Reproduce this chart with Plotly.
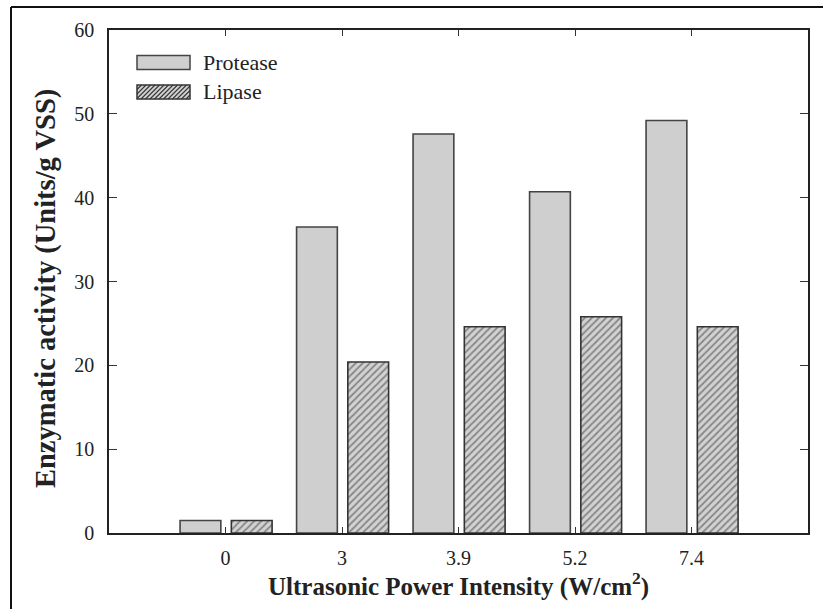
import plotly.graph_objects as go

categories = ["0", "3", "3.9", "5.2", "7.4"]
protease = [1.5, 36.5, 47.6, 40.7, 49.2]
lipase = [1.5, 20.4, 24.6, 25.8, 24.6]
y_ticks = [0, 10, 20, 30, 40, 50, 60]

W, H = 823, 609
L, R, T, B = 109, 15, 30, 76
PW, PH = W - L - R, H - T - B

def px(x):
    return (x - L) / PW

def py(y):
    return (H - B - y) / PH

fig = go.Figure()
fig.add_trace(go.Bar(
    x=categories, y=protease, name="Protease",
    width=0.35, offset=-0.39,
    marker=dict(color="#cfcfcf", line=dict(color="#444444", width=1.6)),
    showlegend=False,
))
fig.add_trace(go.Bar(
    x=categories, y=lipase, name="Lipase",
    width=0.35, offset=0.05,
    marker=dict(color="#c8c8c8", line=dict(color="#333333", width=1.6),
                pattern=dict(shape="/", fgcolor="#3a3a3a", bgcolor="#d2d2d2",
                             size=5, solidity=0.35)),
    showlegend=False,
))

font_family = "Liberation Serif, Times New Roman, serif"

fig.update_layout(
    width=W, height=H,
    margin=dict(l=L, r=R, t=T, b=B),
    paper_bgcolor="white", plot_bgcolor="white",
    barmode="overlay",
    font=dict(family=font_family, size=20, color="#222222"),
    showlegend=False,
)
fig.update_xaxes(
    type="category", range=[-1, 5],
    showline=True, linecolor="#222222", linewidth=1.5, mirror="ticks",
    ticks="inside", ticklen=6, tickwidth=1.2, tickcolor="#333333",
    showgrid=False, zeroline=False,
    tickfont=dict(size=20), ticklabelstandoff=6,
)
fig.update_yaxes(
    range=[0, 60], tickvals=y_ticks,
    showline=True, linecolor="#222222", linewidth=1.5, mirror="ticks",
    ticks="inside", ticklen=8, tickwidth=1.2, tickcolor="#333333",
    showgrid=False, zeroline=False,
    tickfont=dict(size=20), ticklabelstandoff=9,
)

# axis titles
fig.add_annotation(text="<b>Ultrasonic Power Intensity (W/cm<sup>2</sup>)</b>",
                   xref="paper", yref="paper", x=px(458), y=py(584),
                   showarrow=False, font=dict(size=25, color="#222222"),
                   xanchor="center", yanchor="middle")
fig.add_annotation(text="<b>Enzymatic activity (Units/g VSS)</b>",
                   xref="paper", yref="paper", x=px(46), y=py(289),
                   showarrow=False, textangle=-90, font=dict(size=28.5, color="#222222"),
                   xanchor="center", yanchor="middle")

# legend (manual)
x0, x1 = 137, 190
fig.add_shape(type="rect", xref="paper", yref="paper",
              x0=px(x0), x1=px(x1), y0=py(69.5), y1=py(55.5),
              fillcolor="#cfcfcf", line=dict(color="#444444", width=1.5), layer="above")
ly0, ly1 = 85, 99
fig.add_shape(type="rect", xref="paper", yref="paper",
              x0=px(x0), x1=px(x1), y0=py(ly1), y1=py(ly0),
              fillcolor="#d2d2d2", line=dict(width=0), layer="above")
# hatching "/" lines inside lipase legend box
segs = []
step = 4.5
h = ly1 - ly0
s = x0 - h
while s < x1:
    ax, ay = s, ly1
    bx, by = s + h, ly0
    if ax < x0:
        ay = ly1 - (x0 - ax)
        ax = x0
    if bx > x1:
        by = ly0 + (bx - x1)
        bx = x1
    if bx > ax:
        segs.append(f"M{px(ax):.5f},{py(ay):.5f} L{px(bx):.5f},{py(by):.5f}")
    s += step
fig.add_shape(type="path", xref="paper", yref="paper", path=" ".join(segs),
              line=dict(color="#3a3a3a", width=1.2), layer="above")
fig.add_shape(type="rect", xref="paper", yref="paper",
              x0=px(x0), x1=px(x1), y0=py(ly1), y1=py(ly0),
              fillcolor="rgba(0,0,0,0)", line=dict(color="#333333", width=1.5), layer="above")
fig.add_annotation(text="Protease", xref="paper", yref="paper", x=px(201), y=py(62),
                   showarrow=False, xanchor="left", yanchor="middle",
                   font=dict(size=22, color="#222222"))
fig.add_annotation(text="Lipase", xref="paper", yref="paper", x=px(201), y=py(91.5),
                   showarrow=False, xanchor="left", yanchor="middle",
                   font=dict(size=22, color="#222222"))

# outer frame (left and top edges)
fig.add_shape(type="line", xref="paper", yref="paper",
              x0=px(11), x1=px(11), y0=py(7), y1=py(612),
              line=dict(color="#111111", width=2))
fig.add_shape(type="line", xref="paper", yref="paper",
              x0=px(11), x1=px(826), y0=py(7), y1=py(7),
              line=dict(color="#111111", width=2))

fig.write_html("out.html", config={"displayModeBar": False},
               post_script="document.body.style.margin='0px';document.body.style.overflow='hidden';")
